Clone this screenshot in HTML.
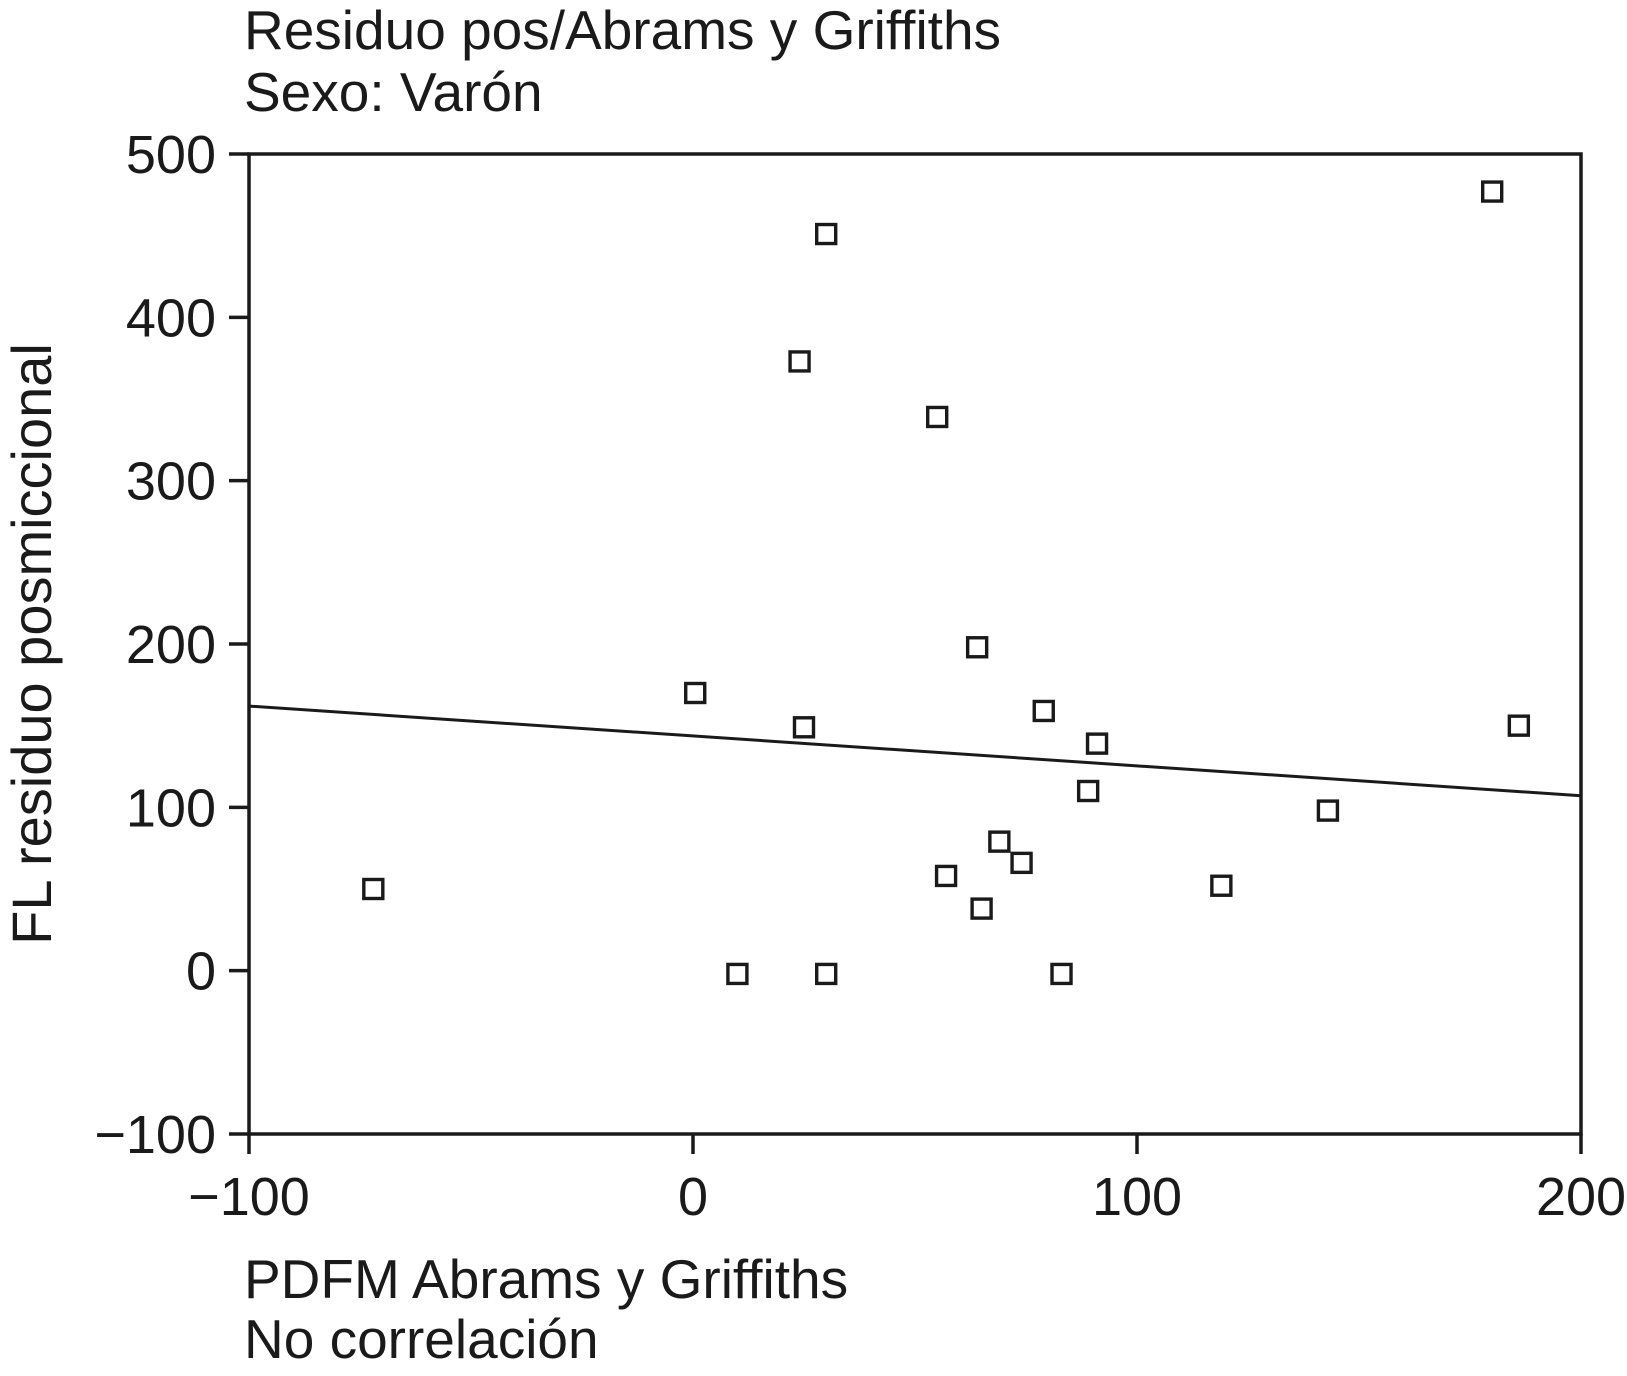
<!DOCTYPE html>
<html><head><meta charset="utf-8"><style>
html,body{margin:0;padding:0;background:#fff;}
svg{display:block;font-family:"Liberation Sans",Arial,sans-serif;}
</style></head><body>
<svg id="chart" width="1627" height="1376" viewBox="0 0 1627 1376">
<text x="244" y="49" font-size="55" fill="#1a1a1a">Residuo pos/Abrams y Griffiths</text>
<text x="244" y="111" font-size="55" fill="#1a1a1a">Sexo: Varón</text>
<text transform="translate(51,644) rotate(-90)" text-anchor="middle" font-size="56" fill="#1a1a1a">FL residuo posmiccional</text>
<text x="244" y="1298" font-size="55" fill="#1a1a1a">PDFM Abrams y Griffiths</text>
<text x="244" y="1358" font-size="55" fill="#1a1a1a">No correlación</text>
<g id="axes"></g>
<g id="marks"></g>
</svg>
<script>
const xs = [-72, 0.5, 10, 30, 24, 30, 25, 55, 57, 64, 65, 69, 74, 79, 83, 89, 91, 119, 143, 180, 186];
const ys = [50, 170, -2, -2, 373, 451, 149, 339, 58, 198, 38, 79, 66, 159, -2, 110, 139, 52, 98, 477, 150];
const xTicks = [-100, 0, 100, 200];
const yTicks = [-100, 0, 100, 200, 300, 400, 500];
const xTickLabels = ["\u2212100", "0", "100", "200"];
const yTickLabels = ["\u2212100", "0", "100", "200", "300", "400", "500"];
const fitIntercept = 143.7;
const fitSlope = -0.183;

const L=249,R=1581,T=154,B=1134;
const sx=v=>L+(v+100)/300*(R-L);
const sy=v=>B-(v+100)/600*(B-T);
const NS="http://www.w3.org/2000/svg";
const axes=document.getElementById('axes'), marks=document.getElementById('marks');
function mk(tag,attrs,parent){const e=document.createElementNS(NS,tag);for(const k in attrs)e.setAttribute(k,attrs[k]);parent.appendChild(e);return e;}
const frame=mk('rect',{x:L,y:T,width:R-L,height:B-T,fill:'none',stroke:'#1a1a1a','stroke-width':3.5},axes);


xTicks.forEach((t,i)=>{
  const ln=mk('line',{x1:sx(t),x2:sx(t),y1:B,y2:B+20,stroke:'#1a1a1a','stroke-width':3.5},axes);
  
  
  const tx=mk('text',{x:sx(t),y:B+81,'text-anchor':'middle','font-size':54,fill:'#1a1a1a'},axes);
  tx.textContent=xTickLabels[i];
  
  
});
yTicks.forEach((t,i)=>{
  const ln=mk('line',{x1:L-20,x2:L,y1:sy(t),y2:sy(t),stroke:'#1a1a1a','stroke-width':3.5},axes);
  
  
  const tx=mk('text',{x:L-33,y:sy(t)+19,'text-anchor':'end','font-size':54,fill:'#1a1a1a'},axes);
  tx.textContent=yTickLabels[i];
  
  
});
const fit=mk('line',{x1:sx(-100),y1:sy(fitIntercept+fitSlope*-100),x2:sx(200),y2:sy(fitIntercept+fitSlope*200),stroke:'#1a1a1a','stroke-width':3},marks);


xs.forEach((x,i)=>{
  const s=19;
  const r=mk('rect',{x:sx(x)-s/2,y:sy(ys[i])-s/2,width:s,height:s,fill:'#fff',stroke:'#1a1a1a','stroke-width':3.4},marks);
  
  
});
</script>
</body></html>
